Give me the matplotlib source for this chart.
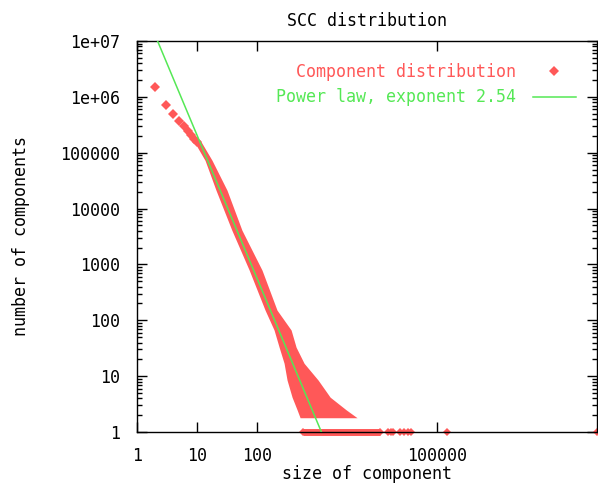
import numpy as np
import matplotlib.pyplot as plt
from matplotlib.ticker import FixedLocator, FixedFormatter, LogLocator, NullLocator, NullFormatter

# ---- data ----
# small components, drawn one by one
sizes_small = [2, 3, 4, 5, 6, 7, 8, 9, 10]
counts_small = [1.48e6, 7.1e5, 4.9e5, 3.7e5, 2.95e5, 2.4e5, 2.05e5, 1.78e5, 1.55e5]

# dense band of points: for each count level, smallest and largest size seen
band_counts = [1.7e5, 7.3e4, 2.13e4, 4.1e3, 790, 152, 67, 33, 17, 8.5, 4.2, 2.5, 1.8]
band_min_size = [8.6, 13.6, 20.7, 38, 74, 136, 192, 233, 282, 316, 383, 464, 521]
band_max_size = [11.2, 17.8, 31.6, 56, 121, 215, 369, 447, 607, 1040, 1650, 3040, 4640]

# sizes seen exactly once: a solid run, then isolated ones
single_run = [590, 11000]
single_sizes = [15200, 17100, 18500, 24200, 28200, 32900, 36900, 147000, 4.6e7]

# power law fit
fit_exponent = 2.54
fit_x = [2.2, 1180]
fit_y = [1e7, 1]

x_ticks = [1, 10, 100, 100000]
x_labels = ['1', '10', '100', '100000']
y_ticks = [1, 10, 100, 1000, 10000, 100000, 1e6, 1e7]
y_labels = ['1', '10', '100', '1000', '10000', '100000', '1e+06', '1e+07']

red = '#ff5858'
green = '#55e855'

plt.rcParams['font.family'] = ['DejaVu Sans Mono', 'DejaVu Sans']
fs = 12

fig = plt.figure(figsize=(5.98, 4.86), dpi=100)
ax = fig.add_axes([137 / 598, 54 / 486, 460 / 598, 391 / 486])
ax.set_xscale('log')
ax.set_yscale('log')

# band
ax.fill_betweenx(band_counts, band_min_size, band_max_size, color=red, lw=0, zorder=2)
# single-count run
ax.plot(single_run, [1, 1], '-D', color=red, lw=5, ms=4, mew=0,
        solid_capstyle='butt', clip_on=False, zorder=2)
ax.plot(single_sizes, [1] * len(single_sizes), 'D', color=red, ms=4, mew=0,
        clip_on=False, zorder=2)
ax.plot(sizes_small, counts_small, 'D', color=red, ms=4.8, mew=0,
        clip_on=False, zorder=2, label='Component distribution')

ax.plot(fit_x, fit_y, color=green, lw=1.1, zorder=3,
        label='Power law, exponent %.2f' % fit_exponent)

ax.set_xlim(1, max(single_sizes))
ax.set_ylim(1, 1e7)

ax.xaxis.set_major_locator(FixedLocator(x_ticks))
ax.xaxis.set_major_formatter(FixedFormatter(x_labels))
ax.xaxis.set_minor_locator(NullLocator())
ax.yaxis.set_major_locator(FixedLocator(y_ticks))
ax.yaxis.set_major_formatter(FixedFormatter(y_labels))
ax.yaxis.set_minor_locator(LogLocator(base=10, subs=np.arange(2, 10), numticks=20))
ax.yaxis.set_minor_formatter(NullFormatter())

ax.tick_params(which='both', direction='in', top=True, right=True, width=1, labelsize=fs)
ax.tick_params(which='major', length=7)
ax.tick_params(which='minor', length=3.5)
ax.tick_params(axis='x', pad=11)
ax.tick_params(axis='y', pad=12)
for s in ax.spines.values():
    s.set_linewidth(1)

ax.set_title('SCC distribution', fontsize=fs, pad=10.8)
ax.set_xlabel('size of component', fontsize=fs)
ax.xaxis.set_label_coords(0.5, -0.085)
ax.set_ylabel('number of components', fontsize=fs)
ax.yaxis.set_label_coords(-0.232, 0.5)

ax.legend(loc='upper right', bbox_to_anchor=(0.954, 0.944), frameon=False,
          markerfirst=False, handlelength=2.6, handletextpad=1.0,
          labelspacing=0.45, borderpad=0, borderaxespad=0, fontsize=fs,
          labelcolor='linecolor')

fig.savefig('out.png', dpi=100)
